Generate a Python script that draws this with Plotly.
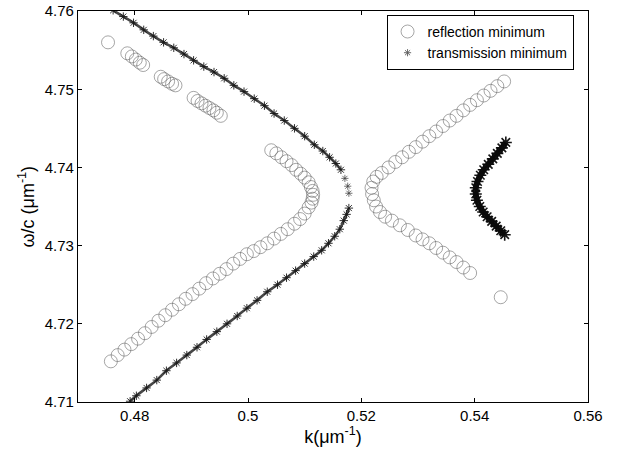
import plotly.graph_objects as go

# ---------------- data ----------------
# reflection minimum (open circles)
refl_k = [
    0.4753,
    0.4787, 0.4795, 0.4802, 0.4809, 0.4815,
    0.4846, 0.4852, 0.4859, 0.4866, 0.4872,
    0.4904, 0.4911, 0.4918, 0.4925, 0.4932, 0.4939, 0.4945, 0.4952,
    0.5041, 0.5050, 0.5059, 0.5068, 0.5077, 0.5085, 0.5093, 0.5100, 0.5107,
    0.5111, 0.5114, 0.5115, 0.5114, 0.5112, 0.5107, 0.5100, 0.5092, 0.5082,
    0.5070, 0.5058, 0.5046, 0.5034, 0.5022, 0.5010, 0.4998, 0.4986, 0.4974,
    0.4962, 0.4950, 0.4938, 0.4926, 0.4914, 0.4902, 0.4890, 0.4878, 0.4866,
    0.4854, 0.4842, 0.4830, 0.4818, 0.4806, 0.4794, 0.4782, 0.4770, 0.4758,
    0.5452, 0.5440, 0.5428, 0.5416, 0.5404, 0.5392, 0.5380, 0.5368, 0.5356,
    0.5344, 0.5332, 0.5320, 0.5308, 0.5296, 0.5284, 0.5272, 0.5260, 0.5248,
    0.5236, 0.5227, 0.5221, 0.5218, 0.5219, 0.5222, 0.5226, 0.5233, 0.5242,
    0.5254, 0.5268, 0.5282,
    0.5296, 0.5308, 0.5320, 0.5332, 0.5344, 0.5356, 0.5368, 0.5380, 0.5392,
    0.5446,
]
refl_w = [
    4.7560,
    4.7546, 4.7542, 4.7538, 4.7534, 4.7531,
    4.7516, 4.7513, 4.7510, 4.7507, 4.7505,
    4.7489, 4.7485, 4.7482, 4.7479, 4.7476, 4.7473, 4.7470, 4.7466,
    4.7422, 4.7418, 4.7413, 4.7408, 4.7403, 4.7397, 4.7392, 4.7387, 4.7381,
    4.7375, 4.7370, 4.7365, 4.7360, 4.7355, 4.7349, 4.7341, 4.7334, 4.7328,
    4.7321, 4.7315, 4.7309, 4.7303, 4.7298, 4.7293, 4.7289, 4.7283, 4.7277,
    4.7270, 4.7264, 4.7258, 4.7252, 4.7245, 4.7238, 4.7232, 4.7225, 4.7218,
    4.7211, 4.7204, 4.7196, 4.7188, 4.7181, 4.7174, 4.7167, 4.7160, 4.7152,
    4.7510, 4.7504, 4.7498, 4.7492, 4.7486, 4.7480, 4.7473, 4.7466, 4.7460,
    4.7453, 4.7446, 4.7440, 4.7433, 4.7426, 4.7420, 4.7413, 4.7407, 4.7400,
    4.7393, 4.7388, 4.7382, 4.7374, 4.7366, 4.7358, 4.7350, 4.7343, 4.7337,
    4.7332, 4.7326, 4.7320,
    4.7313, 4.7308, 4.7303, 4.7297, 4.7291, 4.7285, 4.7279, 4.7272, 4.7265,
    4.7234,
]

# transmission minimum (asterisks) - left branch, upper part
trans_up_k = [
    0.4762, 0.4780, 0.4798, 0.4816, 0.4833, 0.4851, 0.4869, 0.4887, 0.4904,
    0.4922, 0.4940, 0.4958, 0.4975, 0.4993, 0.5011, 0.5029, 0.5046, 0.5064,
    0.5082, 0.5100, 0.5117, 0.5132, 0.5144, 0.5155, 0.5164,
]
trans_up_w = [
    4.7601, 4.7593, 4.7585, 4.7576, 4.7568, 4.7560, 4.7553, 4.7545, 4.7537,
    4.7529, 4.7522, 4.7514, 4.7505, 4.7497, 4.7488, 4.7479, 4.7469, 4.7460,
    4.7450, 4.7440, 4.7429, 4.7421, 4.7413, 4.7405, 4.7397,
]
# sparse points near the tip
trans_tip_k = [0.5171, 0.5176, 0.5178]
trans_tip_w = [4.7386, 4.7376, 4.7367]
# left branch, lower part
trans_lo_k = [
    0.5178, 0.5174, 0.5169, 0.5162, 0.5153, 0.5142, 0.5130, 0.5116, 0.5100,
    0.5084, 0.5068, 0.5052, 0.5034, 0.5016, 0.4998, 0.4981, 0.4963, 0.4945,
    0.4927, 0.4910, 0.4892, 0.4874, 0.4856, 0.4839, 0.4821, 0.4803, 0.4792,
]
trans_lo_w = [
    4.7348, 4.7340, 4.7332, 4.7321, 4.7312, 4.7303, 4.7294, 4.7286, 4.7277,
    4.7268, 4.7259, 4.7250, 4.7241, 4.7230, 4.7220, 4.7210, 4.7200, 4.7190,
    4.7180, 4.7170, 4.7160, 4.7150, 4.7140, 4.7128, 4.7118, 4.7108, 4.7101,
]
# transmission minimum - right C-shaped branch
trans_c_k = [
    0.5455, 0.5448, 0.5440, 0.5432, 0.5424, 0.5416, 0.5410, 0.5405, 0.5402,
    0.5402, 0.5404, 0.5409, 0.5415, 0.5422, 0.5430, 0.5438, 0.5446, 0.5453,
]
trans_c_w = [
    4.7432, 4.7425, 4.7418, 4.7411, 4.7404, 4.7397, 4.7390, 4.7382, 4.7374,
    4.7366, 4.7358, 4.7350, 4.7343, 4.7337, 4.7331, 4.7325, 4.7319, 4.7314,
]

x_ticks = [0.48, 0.5, 0.52, 0.54, 0.56]
x_tick_text = ["0.48", "0.5", "0.52", "0.54", "0.56"]
y_ticks = [4.71, 4.72, 4.73, 4.74, 4.75, 4.76]
y_tick_text = ["4.71", "4.72", "4.73", "4.74", "4.75", "4.76"]

FONT = "Liberation Sans, Arial, Helvetica, sans-serif"
DARK = "rgba(25,25,25,0.9)"

fig = go.Figure()
fig.add_trace(go.Scatter(
    x=refl_k, y=refl_w, mode="markers", name="reflection minimum",
    marker=dict(symbol="circle-open", size=13, color="rgba(95,95,95,0.7)",
                line=dict(width=0.8)),
))
# dense asterisk bands (line underlay + asterisk markers)
for xs, ys in [(trans_up_k, trans_up_w), (trans_lo_k, trans_lo_w)]:
    fig.add_trace(go.Scatter(
        x=xs, y=ys, mode="lines+markers", showlegend=False, hoverinfo="skip",
        line=dict(color="rgba(40,40,40,0.85)", width=2.6, shape="spline"),
        marker=dict(symbol="asterisk-open", size=7, color=DARK,
                    line=dict(width=1, color=DARK)),
    ))
fig.add_trace(go.Scatter(
    x=trans_tip_k, y=trans_tip_w, mode="markers", showlegend=False,
    marker=dict(symbol="asterisk-open", size=6, color="rgba(60,60,60,0.8)",
                line=dict(width=0.9, color="rgba(60,60,60,0.8)")),
))
fig.add_trace(go.Scatter(
    x=trans_c_k, y=trans_c_w, mode="lines+markers", showlegend=False,
    line=dict(color="rgba(10,10,10,0.95)", width=6, shape="spline"),
    marker=dict(symbol="asterisk-open", size=10, color="rgba(10,10,10,0.95)",
                line=dict(width=1.6, color="rgba(10,10,10,0.95)")),
))
# legend entry for transmission minimum
fig.add_trace(go.Scatter(
    x=[None], y=[None], mode="markers", name="transmission minimum",
    marker=dict(symbol="asterisk-open", size=6, color="rgba(90,90,90,0.9)",
                line=dict(width=1, color="rgba(90,90,90,0.9)")),
))

axis_common = dict(
    showgrid=False, zeroline=False, showline=True, linecolor="black",
    linewidth=1.2, mirror="ticks", ticks="inside", ticklen=4,
    tickcolor="black", tickfont=dict(family=FONT, size=15, color="black"),
    ticklabeloverflow="allow",
)
fig.update_xaxes(range=[0.47, 0.56], tickvals=x_ticks, ticktext=x_tick_text,
                 title=dict(text="k(μm<sup>-1</sup>)",
                            font=dict(family=FONT, size=18, color="black"),
                            standoff=4),
                 **axis_common)
fig.update_yaxes(range=[4.71, 4.76001], tickvals=y_ticks, ticktext=y_tick_text,
                 **axis_common)

fig.add_annotation(
    text="ω/c (μm<sup>-1</sup>)", textangle=-90, showarrow=False,
    xref="paper", yref="paper", x=0, y=0.5, xanchor="center", yanchor="middle",
    xshift=-51, font=dict(family=FONT, size=18, color="black"),
)

fig.update_layout(
    width=631, height=453,
    margin=dict(l=78, r=43, t=11, b=51, autoexpand=False),
    paper_bgcolor="white", plot_bgcolor="white",
    showlegend=True,
    legend=dict(x=0.605, y=0.99, xanchor="left", yanchor="top",
                bgcolor="white", bordercolor="black", borderwidth=1,
                font=dict(family=FONT, size=14, color="black"),
                tracegroupgap=0),
)

fig.write_html("out.html", config={"displayModeBar": False},
               post_script="document.body.style.margin='0';")
